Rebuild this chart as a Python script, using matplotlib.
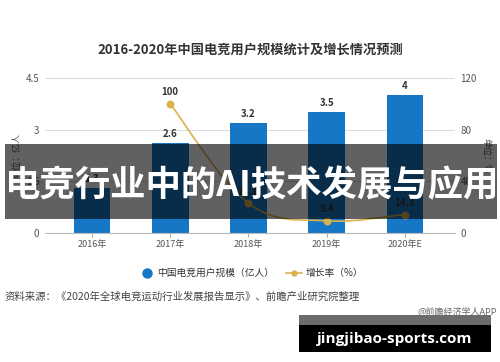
import matplotlib
matplotlib.use("Agg")
import matplotlib.pyplot as plt
from matplotlib.path import Path
from matplotlib.patches import PathPatch, Rectangle
import numpy as np

plt.rcParams['font.family'] = ['Noto Sans CJK SC', 'DejaVu Sans']
plt.rcParams['axes.unicode_minus'] = False

# data
years = ['2016年', '2017年', '2018年', '2019年', '2020年E']
users = [1.3, 2.6, 3.2, 3.5, 4.0]           # 亿人
growth = [None, 100, 23.1, 9.4, 14.3]        # %
user_labels = ['1.3', '2.6', '3.2', '3.5', '4']
growth_labels = ['', '100', '23.1', '9.4', '14.3']
left_ticks = [0, 1.5, 3, 4.5]
right_ticks = [0, 40, 80, 120]

BLUE = '#1677c7'
GOLD = '#d9b24c'
GRAY = '#555555'


def smooth_path(xs, ys, k=0.18):
    """Catmull-Rom style bezier path through the points"""
    pts = list(zip(xs, ys))
    verts = [pts[0]]
    codes = [Path.MOVETO]
    n = len(pts)
    for i in range(n - 1):
        p0 = pts[i - 1] if i > 0 else pts[i]
        p1 = pts[i]
        p2 = pts[i + 1]
        p3 = pts[i + 2] if i + 2 < n else pts[i + 1]
        c1 = (p1[0] + (p2[0] - p0[0]) * k, p1[1] + (p2[1] - p0[1]) * k)
        c2 = (p2[0] - (p3[0] - p1[0]) * k, p2[1] - (p3[1] - p1[1]) * k)
        verts += [c1, c2, p2]
        codes += [Path.CURVE4] * 3
    return Path(verts, codes)


fig = plt.figure(figsize=(5, 3.62), dpi=100)
ax = fig.add_axes([0.09, 0.3564, 0.82, 0.428])
x = np.arange(len(years))

ax.bar(x, users, width=0.47, color=BLUE, zorder=2)
for xi, v, lab in zip(x, users, user_labels):
    ax.text(xi, v + 0.12, lab, ha='center', va='bottom', fontsize=7,
            fontweight='bold', color='#333333')

ax.set_xlim(-0.6, 4.64)
ax.set_ylim(0, 4.5)
ax.set_yticks(left_ticks)
ax.set_yticklabels(['0', '1.5', '3', '4.5'])
ax.set_xticks(x)
ax.set_xticklabels(years)
ax.tick_params(axis='y', length=0, labelsize=7, labelcolor=GRAY, pad=4)
ax.tick_params(axis='x', length=3, color='#aaaaaa', labelsize=6.5, labelcolor=GRAY, pad=2)
ax.grid(axis='y', color='#dddddd', linewidth=0.8, zorder=0)
for s in ['top', 'right', 'left']:
    ax.spines[s].set_visible(False)
ax.spines['bottom'].set_color('#bbbbbb')
ax.set_ylabel('单位：亿人', fontsize=6.5, color=GRAY, labelpad=3)

ax2 = ax.twinx()
ax2.set_ylim(0, 120)
ax2.set_yticks(right_ticks)
ax2.tick_params(axis='y', length=0, labelsize=7, labelcolor=GRAY, pad=4)
for s in ax2.spines.values():
    s.set_visible(False)
ax2.set_ylabel('单位：%', fontsize=6.5, color=GRAY, rotation=270, labelpad=10)

gx = [xi for xi, g in zip(x, growth) if g is not None]
gy = [g for g in growth if g is not None]
ax2.add_patch(PathPatch(smooth_path(gx, gy), facecolor='none', edgecolor=GOLD,
                        linewidth=1.2, zorder=3))
ax2.scatter(gx, gy, s=22, color=GOLD, zorder=4)
for xi, g, lab in zip(x, growth, growth_labels):
    if g is None:
        continue
    ax2.text(xi, g + 5, lab, ha='center', va='bottom', fontsize=7,
             fontweight='bold', color='#333333', zorder=4)

fig.text(0.5, 0.862, '2016-2020年中国电竞用户规模统计及增长情况预测',
         ha='center', va='center', fontsize=9.5, fontweight='bold', color='#333333')

# legend
fig.lines.append(plt.Line2D([0.294], [0.246], marker='o', markersize=6.5, color=BLUE,
                            linestyle='none', transform=fig.transFigure))
fig.text(0.314, 0.246, '中国电竞用户规模（亿人）', ha='left', va='center', fontsize=7,
         color='#333333')
fig.lines.append(plt.Line2D([0.572, 0.604], [0.246, 0.246], color=GOLD, linewidth=1.2,
                            transform=fig.transFigure))
fig.lines.append(plt.Line2D([0.588], [0.246], marker='o', markersize=3.5, color=GOLD,
                            transform=fig.transFigure))
fig.text(0.612, 0.246, '增长率（%）', ha='left', va='center', fontsize=7, color='#333333')

fig.text(0.01, 0.18, '资料来源：《2020年全球电竞运动行业发展报告显示》、前瞻产业研究院整理',
         ha='left', va='center', fontsize=7.5, color='#444444')
fig.text(0.994, 0.138, '@前瞻经济学人APP', ha='right', va='center', fontsize=6.5,
         color='#666666')

# overlay banner
fig.patches.append(Rectangle((0.01, 1 - 219 / 362), 0.984, 75 / 362, transform=fig.transFigure,
                             facecolor='black', alpha=0.62, zorder=10))
fig.text(0.502, 1 - 186 / 362, '电竞行业中的AI技术发展与应用', ha='center', va='center',
         fontsize=25.5, fontweight='heavy', color='white', zorder=11)

# site box
fig.patches.append(Rectangle((299 / 500, 1 - 325 / 362), 192 / 500, 10 / 362,
                             transform=fig.transFigure, facecolor='#6b6b6b', zorder=10))
fig.patches.append(Rectangle((299 / 500, 1 - 352 / 362), 192 / 500, 27 / 362,
                             transform=fig.transFigure, facecolor='black', zorder=10))
fig.text(395 / 500, 1 - 339 / 362, 'jingjibao-sports.com', ha='center', va='center',
         fontsize=11, fontweight='bold', family='Open Sans', color='white', zorder=11)

fig.savefig('out.png', dpi=100)
